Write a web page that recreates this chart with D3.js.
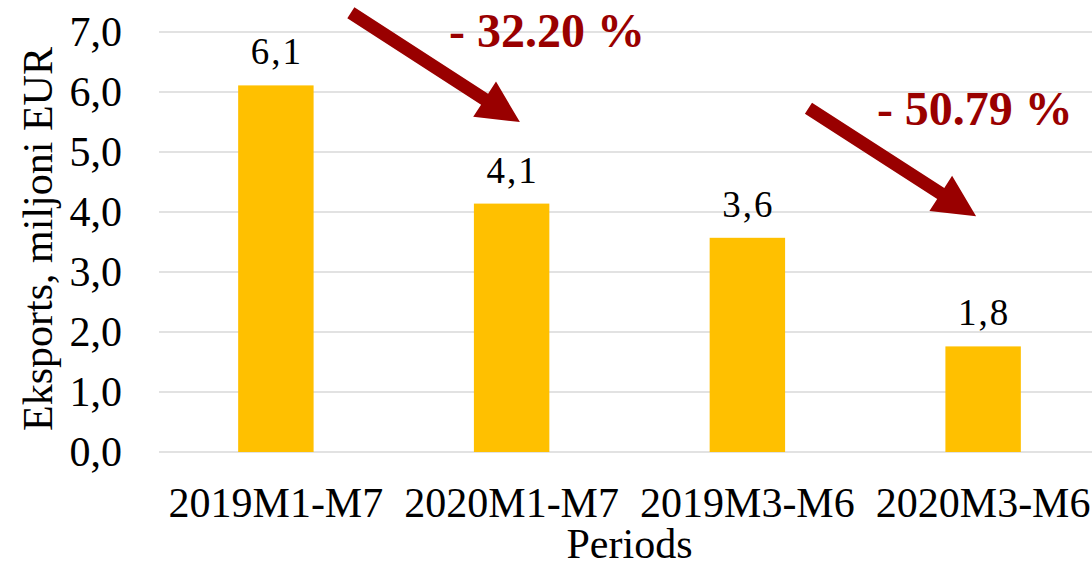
<!DOCTYPE html>
<html>
<head>
<meta charset="utf-8">
<script src="https://cdn.jsdelivr.net/npm/d3@7"></script>
<style>
  body { margin: 0; background: #fff; }
  svg text { font-family: "Liberation Serif", "Times New Roman", serif; fill: #000; }
</style>
</head>
<body>
<div id="chart"></div>
<script>
// data
var periods = ['2019M1-M7', '2020M1-M7', '2019M3-M6', '2020M3-M6'];
var exportsValues = [6.11, 4.14, 3.57, 1.76];
var yTicks = [0, 1, 2, 3, 4, 5, 6, 7];
var changeLabels = ['- 32.20 %', '- 50.79 %'];

var W = 1092, H = 564;
var plotLeft = 158, plotRight = 1101, plotTop = 32, plotBottom = 452;

var svg = d3.select('#chart').append('svg')
  .attr('width', W)
  .attr('height', H);

var x = d3.scaleBand()
  .domain(periods)
  .range([plotLeft, plotRight])
  .paddingInner(0.68)
  .paddingOuter(0.34);

var y = d3.scaleLinear()
  .domain([0, 7])
  .range([plotBottom, plotTop]);

// gridlines
svg.append('g')
  .selectAll('line')
  .data(yTicks)
  .enter()
  .append('line')
    .attr('x1', plotLeft + 1)
    .attr('x2', W)
    .attr('y1', function(d){ return y(d); })
    .attr('y2', function(d){ return y(d); })
    .attr('stroke', '#d9d9d9')
    .attr('stroke-width', 1.5);

// y axis labels
var yAxis = d3.axisLeft(y)
  .tickValues(yTicks)
  .tickFormat(function(d){ return d3.format('.1f')(d).replace('.', ','); })
  .tickSize(0)
  .tickPadding(0);

var yg = svg.append('g')
  .attr('transform', 'translate(122,0)')
  .call(yAxis);
yg.select('.domain').remove();
yg.selectAll('text')
  .attr('font-size', 42)
  .attr('dy', '0.33em')
  .style('font-family', '"Liberation Serif", serif');

// x axis labels
var xAxis = d3.axisBottom(x).tickSize(0).tickPadding(0);
var xg = svg.append('g')
  .attr('transform', 'translate(0,' + plotBottom + ')')
  .call(xAxis);
xg.select('.domain').remove();
xg.selectAll('text')
  .attr('font-size', 42)
  .attr('dy', 0)
  .attr('y', 65)
  .style('font-family', '"Liberation Serif", serif');

// bars
svg.append('g')
  .selectAll('rect')
  .data(exportsValues)
  .enter()
  .append('rect')
    .attr('x', function(d, i){ return x(periods[i]); })
    .attr('y', function(d){ return y(d); })
    .attr('width', x.bandwidth())
    .attr('height', function(d){ return y(0) - y(d); })
    .attr('fill', '#ffc000');

// value labels
svg.append('g')
  .selectAll('text')
  .data(exportsValues)
  .enter()
  .append('text')
    .attr('x', function(d, i){ return x(periods[i]) + x.bandwidth() / 2 + 1; })
    .attr('y', function(d){ return y(d) - 21; })
    .attr('text-anchor', 'middle')
    .attr('font-size', 37)
    .attr('letter-spacing', 2)
    .text(function(d){ return d3.format('.1f')(d).replace('.', ','); });

// axis titles
svg.append('text')
  .attr('transform', 'translate(52,239) rotate(-90)')
  .attr('text-anchor', 'middle')
  .attr('font-size', 42)
  .text('Eksports, miljoni EUR');

svg.append('text')
  .attr('x', (plotLeft + plotRight) / 2)
  .attr('y', 558)
  .attr('text-anchor', 'middle')
  .attr('font-size', 42)
  .text('Periods');

// change arrows
var red = '#990000';
var step = x.step();
var arrows = [
  { x1: x(periods[0]) + step * 0.478, y1: y(7.32), x2: x(periods[1]) + step * 0.195, y2: y(5.5) },
  { x1: x(periods[2]) + step * 0.419, y1: y(5.73), x2: x(periods[3]) + step * 0.13, y2: y(3.93) }
];

function drawArrow(a) {
  var dx = a.x2 - a.x1, dy = a.y2 - a.y1;
  var len = Math.sqrt(dx * dx + dy * dy);
  var ux = dx / len, uy = dy / len, nx = -uy, ny = ux;
  var headLen = 42, headW = 21, shaftW = 6.5;
  var bx = a.x2 - ux * headLen, by = a.y2 - uy * headLen;
  var pts = [
    [a.x1 + nx * shaftW, a.y1 + ny * shaftW],
    [bx + nx * shaftW, by + ny * shaftW],
    [bx + nx * headW, by + ny * headW],
    [a.x2, a.y2],
    [bx - nx * headW, by - ny * headW],
    [bx - nx * shaftW, by - ny * shaftW],
    [a.x1 - nx * shaftW, a.y1 - ny * shaftW]
  ];
  return 'M' + pts.map(function(p){ return p[0].toFixed(1) + ',' + p[1].toFixed(1); }).join('L') + 'Z';
}

svg.append('g')
  .selectAll('path')
  .data(arrows)
  .enter()
  .append('path')
    .attr('d', drawArrow)
    .attr('fill', red);

// change labels
var labelPos = [
  { cx: x(periods[1]) + step * 0.31, cy: 47 },
  { cx: x(periods[3]) + step * 0.125, cy: 125 }
];
svg.append('g')
  .selectAll('text')
  .data(changeLabels)
  .enter()
  .append('text')
    .attr('x', function(d, i){ return labelPos[i].cx; })
    .attr('y', function(d, i){ return labelPos[i].cy; })
    .attr('text-anchor', 'middle')
    .attr('font-size', 48)
    .attr('font-weight', 'bold')
    .style('fill', red)
    .text(function(d){ return d; });
</script>
</body>
</html>
